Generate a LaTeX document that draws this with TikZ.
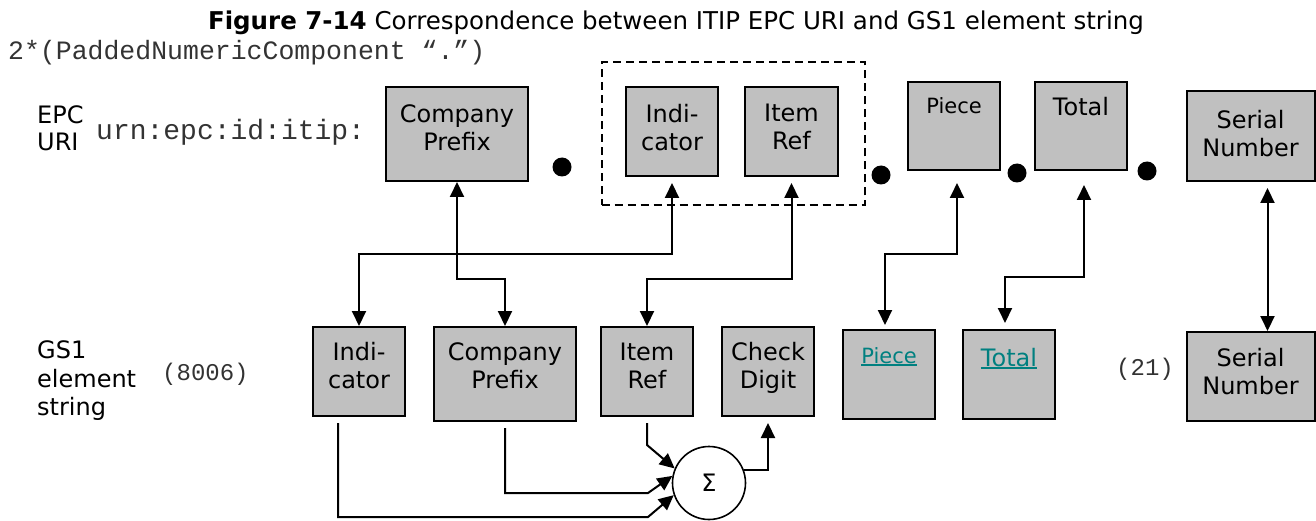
\documentclass[tikz,border=0pt]{standalone}
\usepackage{fontspec}
\setmainfont{DejaVu Sans}
\setmonofont{Liberation Mono}
\usetikzlibrary{arrows.meta}
\definecolor{boxgray}{RGB}{192,192,192}
\definecolor{linkteal}{RGB}{0,128,128}
\newcommand\fsz[2]{\fontsize{#1}{#2}\selectfont}
\newcommand\ulink[1]{\setbox0\hbox{#1}\rlap{\rule[-3pt]{\wd0}{2pt}}\box0}
\begin{document}
\begin{tikzpicture}[x=1pt,y=-1pt,>={Triangle[length=15pt,width=14pt]},
	field/.style={draw=black,line width=2pt,fill=boxgray,align=center,inner sep=0pt,font=\fsz{24}{28},text depth=#1},
	field/.default=12pt,
	onefield/.style={draw=black,line width=2pt,fill=boxgray,inner sep=0pt},
	link/.style={line width=2pt,->},
	link2/.style={line width=2pt,<->},
	dot/.style={circle,fill=black,inner sep=0pt,minimum size=19pt},
	mono/.style={inner sep=0pt,text=black!80,font=\ttfamily\fsz{#1}{30}}]
	\useasboundingbox (0,0) rectangle (1316,521);
	
	\node[anchor=base,inner sep=0pt,font=\fsz{24.5}{28}] (title) at (676,30) {\textbf{Figure 7-14} Correspondence between ITIP EPC URI and GS1 element string};
	\node[mono=26.5,anchor=base west] (rep) at (8,60) {2*(PaddedNumericComponent “.”)};
	
	% EPC URI row
	\node[anchor=west,inner sep=0pt,align=left,font=\fsz{24}{27}] (epc) at (37,128) {EPC\\URI};
	\node[mono=28,anchor=base west] (urn) at (96,140) {urn:epc:id:itip:};
	\node[draw,line width=2pt,dash pattern=on 8pt off 5pt,minimum width=263,minimum height=143] (grp) at (733,134) {};
	\node[field=12pt,minimum width=142,minimum height=94] (cpU) at (457,134) {Company\\Prefix};
	\node[field=9pt,minimum width=92,minimum height=89] (indU) at (672,131.5) {Indi-\\cator};
	\node[field=9pt,minimum width=93,minimum height=89] (irU) at (791.5,131.5) {Item\\Ref};
	\node[onefield,minimum width=92,minimum height=88,font=\fsz{21}{24},text height=32pt,text depth=56pt] (pcU) at (954,126) {Piece};
	\node[onefield,minimum width=92,minimum height=88,font=\fsz{24}{28},text height=34pt,text depth=54pt] (totU) at (1081,126) {Total};
	\node[field=5pt,minimum width=128,minimum height=90] (snU) at (1250.5,136) {Serial\\Number};
	\node[dot] (d1) at (562,167) {};
	\node[dot] (d2) at (881,175) {};
	\node[dot] (d3) at (1017,173) {};
	\node[dot] (d4) at (1147,171) {};
	
	% GS1 element string row
	\node[anchor=west,inner sep=0pt,align=left,font=\fsz{24}{28.5}] (gs1) at (37,381) {GS1\\element\\string};
	\node[mono=24,anchor=base west] (ai8006) at (162,380) {(8006)};
	\node[mono=24,anchor=base west] (ai21) at (1116,375) {(21)};
	\node[field=12pt,minimum width=92,minimum height=89] (indB) at (359,371.5) {Indi-\\cator};
	\node[field=17pt,minimum width=142,minimum height=94] (cpB) at (505,374) {Company\\Prefix};
	\node[field=12pt,minimum width=92,minimum height=89] (irB) at (647,371.5) {Item\\Ref};
	\node[field=12pt,minimum width=92,minimum height=89] (cdB) at (768,371.5) {Check\\Digit};
	\node[onefield,minimum width=92,minimum height=89,font=\fsz{21}{24},text=linkteal,text height=33pt,text depth=56pt] (pcB) at (889,374.5) {\ulink{Piece}};
	\node[onefield,minimum width=92,minimum height=89,font=\fsz{24}{28},text=linkteal,text height=36pt,text depth=53pt] (totB) at (1009,374.5) {\ulink{Total}};
	\node[field=10pt,minimum width=128,minimum height=89] (snB) at (1250.5,376.5) {Serial\\Number};
	\node[circle,draw,line width=1.6pt,inner sep=0pt,minimum size=73pt,font=\fsz{24}{28}] (sig) at (709,483) {Σ};
	
	% mapping between the two rows
	\draw[link2] (cpU.south) -- ++(0,97) -| (cpB.north);
	\draw[link2,shorten <=6pt] (indU.south) -- ++(0,77) -| (indB.north);
	\draw[link2,shorten <=6pt] (irU.south) -- ++(0,102) -| (irB.north);
	\draw[link2,shorten <=12pt,shorten >=4pt] ([xshift=3pt]pcU.south) -- ++(0,83) -| ([xshift=-4pt]pcB.north);
	\draw[link2,shorten <=14pt,shorten >=6pt] ([xshift=3pt]totU.south) -- ++(0,106) -| ([xshift=-4pt]totB.north);
	\draw[link2,shorten <=6pt] ([xshift=17pt]snU.south) -- ([xshift=17pt]snB.north);
	
	% check digit
	\draw[link,shorten <=6pt] (irB.south) -- ++(0,28) -- (sig.157);
	\draw[link,shorten <=6pt] (cpB.south) |- (648,493) -- (sig.169);
	\draw[link,shorten <=6pt] ([xshift=-21pt]indB.south) |- (648,517) -- (sig.199);
	\draw[link,shorten >=6pt] (sig.20) -| (cdB.south);
\end{tikzpicture}
\end{document}
